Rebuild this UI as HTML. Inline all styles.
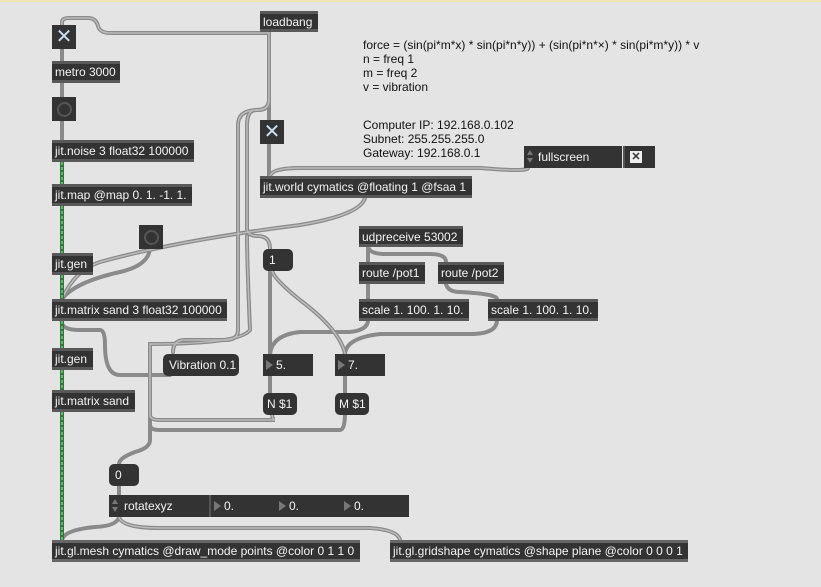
<!DOCTYPE html>
<html><head><meta charset="utf-8"><style>
body{margin:0;width:821px;height:587px;overflow:hidden;background:#e4e4e4;font-family:"Liberation Sans",sans-serif;}
.b{position:absolute;height:22px;background:#333;box-sizing:border-box;border-top:3px solid #595959;border-bottom:3px solid #595959;color:#f4f4f4;font-size:12px;line-height:16px;padding-left:3px;white-space:nowrap;overflow:hidden;}
.m{position:absolute;height:22px;background:#333;border-radius:5px;color:#f4f4f4;font-size:12px;line-height:22px;padding-left:6px;box-sizing:border-box;white-space:nowrap;}
.n{position:absolute;height:22px;background:#333;color:#f4f4f4;font-size:12px;line-height:22px;box-sizing:border-box;padding-left:13px;}
.n.a:before{content:"";position:absolute;left:3px;top:6px;border-left:7px solid #777;border-top:5px solid transparent;border-bottom:5px solid transparent;}
.t{position:absolute;width:24px;height:24px;background:#333;color:#cde;font-size:20px;line-height:24px;text-align:center;}
.bt{position:absolute;width:24px;height:24px;background:#333;}
.bt:after{content:"";position:absolute;left:5px;top:5px;width:11px;height:11px;border:2px solid #555;border-radius:50%;}
.c{position:absolute;font-size:12px;color:#111;line-height:14px;}
.ud{position:absolute;left:3px;top:4px;width:6px;height:14px;}
.ud:before{content:"";position:absolute;left:0;top:0;border-bottom:5px solid #777;border-left:3px solid transparent;border-right:3px solid transparent;}
.ud:after{content:"";position:absolute;left:0;top:8px;border-top:5px solid #777;border-left:3px solid transparent;border-right:3px solid transparent;}
</style></head><body>
<div style="position:absolute;left:0;top:0;width:821px;height:2px;background:#f0e6b4"></div>
<svg width="821" height="587" style="position:absolute;left:0;top:0" fill="none">
<g stroke="#8a8a8a" stroke-width="4" stroke-linecap="round">
<path d="M62 25 V22 Q62 18 70 18 H88 Q96 18 98 26 Q100 33 110 33 H268"/>
<path d="M62 49 V61"/><path d="M62 83 V97"/><path d="M62 121 V140"/>
<path d="M269 31 V100 Q269 110 258 110 Q238 110 238 125 V330 Q238 340 225 340 H185 Q173 340 173 352"/>
<path d="M269 100 Q269 110 256 110 Q247 110 247 125 V228 Q247 236 258 236 Q270 236 270 249"/>
<path d="M269 31 V176"/>
<path d="M269 144 V176"/>
<path d="M270 176 Q272 168 300 168 H480 Q528 172 528 168"/>
<path d="M365 198 Q360 215 300 225 Q180 240 100 262 Q75 270 62 299"/>
<path d="M150 247 Q150 265 120 272 Q75 282 62 299"/>
<path d="M62 320 Q60 330 80 330 H100 Q105 330 105 345 Q105 375 120 375 H170"/>
<path d="M170 375 Q172 372 172 362"/>
<path d="M247 236 Q247 260 250 330 Q240 344 150 344 V415 Q150 420 160 420 H275 Q272 420 272 412"/>
<path d="M150 418 V425 Q150 430 160 430 H340 Q345 430 345 412"/>
<path d="M270 271 V354"/><path d="M270 376 V393"/>
<path d="M272 271 Q275 280 300 300 Q340 330 345 354"/>
<path d="M368 320 Q368 330 350 332 H300 Q272 335 270 354"/>
<path d="M497 320 Q497 334 470 334 H380 Q346 338 345 354"/>
<path d="M345 376 V393"/>
<path d="M368 247 V262"/>
<path d="M368 247 Q370 254 385 254 H430 Q446 254 446 262"/>
<path d="M446 284 Q448 292 460 292 Q497 294 497 299"/>
<path d="M368 284 V299"/>
<path d="M150 420 V440 Q150 448 135 452 Q119 458 119 464"/>
<path d="M119 486 V495"/>
<path d="M119 517 Q117 526 95 527 Q64 530 62 540"/>
<path d="M119 517 Q122 528 160 528 H370 Q398 530 400 540"/>
</g>
<g stroke="#bbb" stroke-width="1.5" stroke-linecap="round">
<path d="M62 25 V22 Q62 18 70 18 H88 Q96 18 98 26 Q100 33 110 33 H268"/>
<path d="M269 31 V100 Q269 110 258 110 Q238 110 238 125 V330 Q238 340 225 340 H185 Q173 340 173 352"/>
<path d="M269 100 Q269 110 256 110 Q247 110 247 125 V228 Q247 236 258 236 Q270 236 270 249"/>
<path d="M270 176 Q272 168 300 168 H480 Q528 172 528 168"/>
<path d="M365 198 Q360 215 300 225 Q180 240 100 262 Q75 270 62 299"/>
<path d="M247 236 Q247 260 250 330 Q240 344 150 344 V415 Q150 420 160 420 H275 Q272 420 272 412"/>
<path d="M272 271 Q275 280 300 300 Q340 330 345 354"/>
<path d="M119 517 Q122 528 160 528 H370 Q398 530 400 540"/>
</g>
<g stroke="#2f7a3a" stroke-width="4"><path d="M62 162 V184 M62 206 V253 M62 275 V299 M62 321 V348 M62 370 V390 M62 412 V540"/></g>
<g stroke="#8fd88f" stroke-width="1.2" stroke-dasharray="3 2"><path d="M62 162 V184 M62 206 V253 M62 275 V299 M62 321 V348 M62 370 V390 M62 412 V540"/></g>
</svg>
<div class="t" style="left:52px;top:25px">✕</div>
<div class="b" style="left:260px;top:11px;width:58px;height:21px">loadbang</div>
<div class="b" style="left:52px;top:61px;width:68px">metro 3000</div>
<div class="bt" style="left:52px;top:97px"></div>
<div class="b" style="left:52px;top:140px;width:142px">jit.noise 3 float32 100000</div>
<div class="b" style="left:52px;top:184px;width:140px">jit.map @map 0. 1. -1. 1.</div>
<div class="bt" style="left:139px;top:225px"></div>
<div class="b" style="left:52px;top:253px;width:41px">jit.gen</div>
<div class="b" style="left:52px;top:299px;width:175px">jit.matrix sand 3 float32 100000</div>
<div class="b" style="left:52px;top:348px;width:41px">jit.gen</div>
<div class="b" style="left:52px;top:390px;width:83px">jit.matrix sand</div>
<div class="m" style="left:163px;top:354px;width:76px">Vibration 0.1</div>
<div class="t" style="left:260px;top:120px">✕</div>
<div class="b" style="left:260px;top:176px;width:212px">jit.world cymatics @floating 1 @fsaa 1</div>
<div class="c" style="left:363px;top:38px">force = (sin(pi*m*x) * sin(pi*n*y)) + (sin(pi*n*×) * sin(pi*m*y)) * v<br>n = freq 1<br>m = freq 2<br>v = vibration</div>
<div class="c" style="left:363px;top:118px">Computer IP: 192.168.0.102<br>Subnet: 255.255.255.0<br>Gateway: 192.168.0.1</div>
<div class="n" style="left:524px;top:146px;width:98px;padding-left:14px">fullscreen<span class="ud"></span></div>
<div style="position:absolute;left:623px;top:146px;width:32px;height:22px;background:#333;border-left:2px solid #555;box-sizing:border-box"><div style="position:absolute;left:5px;top:5px;width:12px;height:12px;background:#eee;color:#333;font-size:11px;line-height:12px;text-align:center;font-weight:bold">✕</div></div>
<div class="b" style="left:359px;top:226px;width:104px;height:21px">udpreceive 53002</div>
<div class="b" style="left:359px;top:262px;width:66px">route /pot1</div>
<div class="b" style="left:438px;top:262px;width:66px">route /pot2</div>
<div class="b" style="left:359px;top:299px;width:110px">scale 1. 100. 1. 10.</div>
<div class="b" style="left:488px;top:299px;width:110px">scale 1. 100. 1. 10.</div>
<div class="m" style="left:263px;top:249px;width:30px">1</div>
<div class="n a" style="left:263px;top:354px;width:50px">5.</div>
<div class="n a" style="left:335px;top:354px;width:50px">7.</div>
<div class="m" style="left:263px;top:393px;width:34px;padding-left:4px">N $1</div>
<div class="m" style="left:335px;top:393px;width:34px;padding-left:4px">M $1</div>
<div class="m" style="left:109px;top:464px;width:30px">0</div>
<div class="n" style="left:109px;top:495px;width:100px;padding-left:15px">rotatexyz<span class="ud"></span></div>
<div style="position:absolute;left:209px;top:495px;width:2px;height:22px;background:#555"></div>
<div class="n a" style="left:211px;top:495px;width:65px">0.</div>
<div class="n a" style="left:276px;top:495px;width:65px">0.</div>
<div class="n a" style="left:341px;top:495px;width:68px">0.</div>
<div class="b" style="left:52px;top:540px;width:308px;border-top-color:#666;border-bottom-color:#666">jit.gl.mesh cymatics @draw_mode points @color 0 1 1 0</div>
<div class="b" style="left:390px;top:540px;width:298px;border-top-color:#666;border-bottom-color:#666">jit.gl.gridshape cymatics @shape plane @color 0 0 0 1</div>
</body></html>
